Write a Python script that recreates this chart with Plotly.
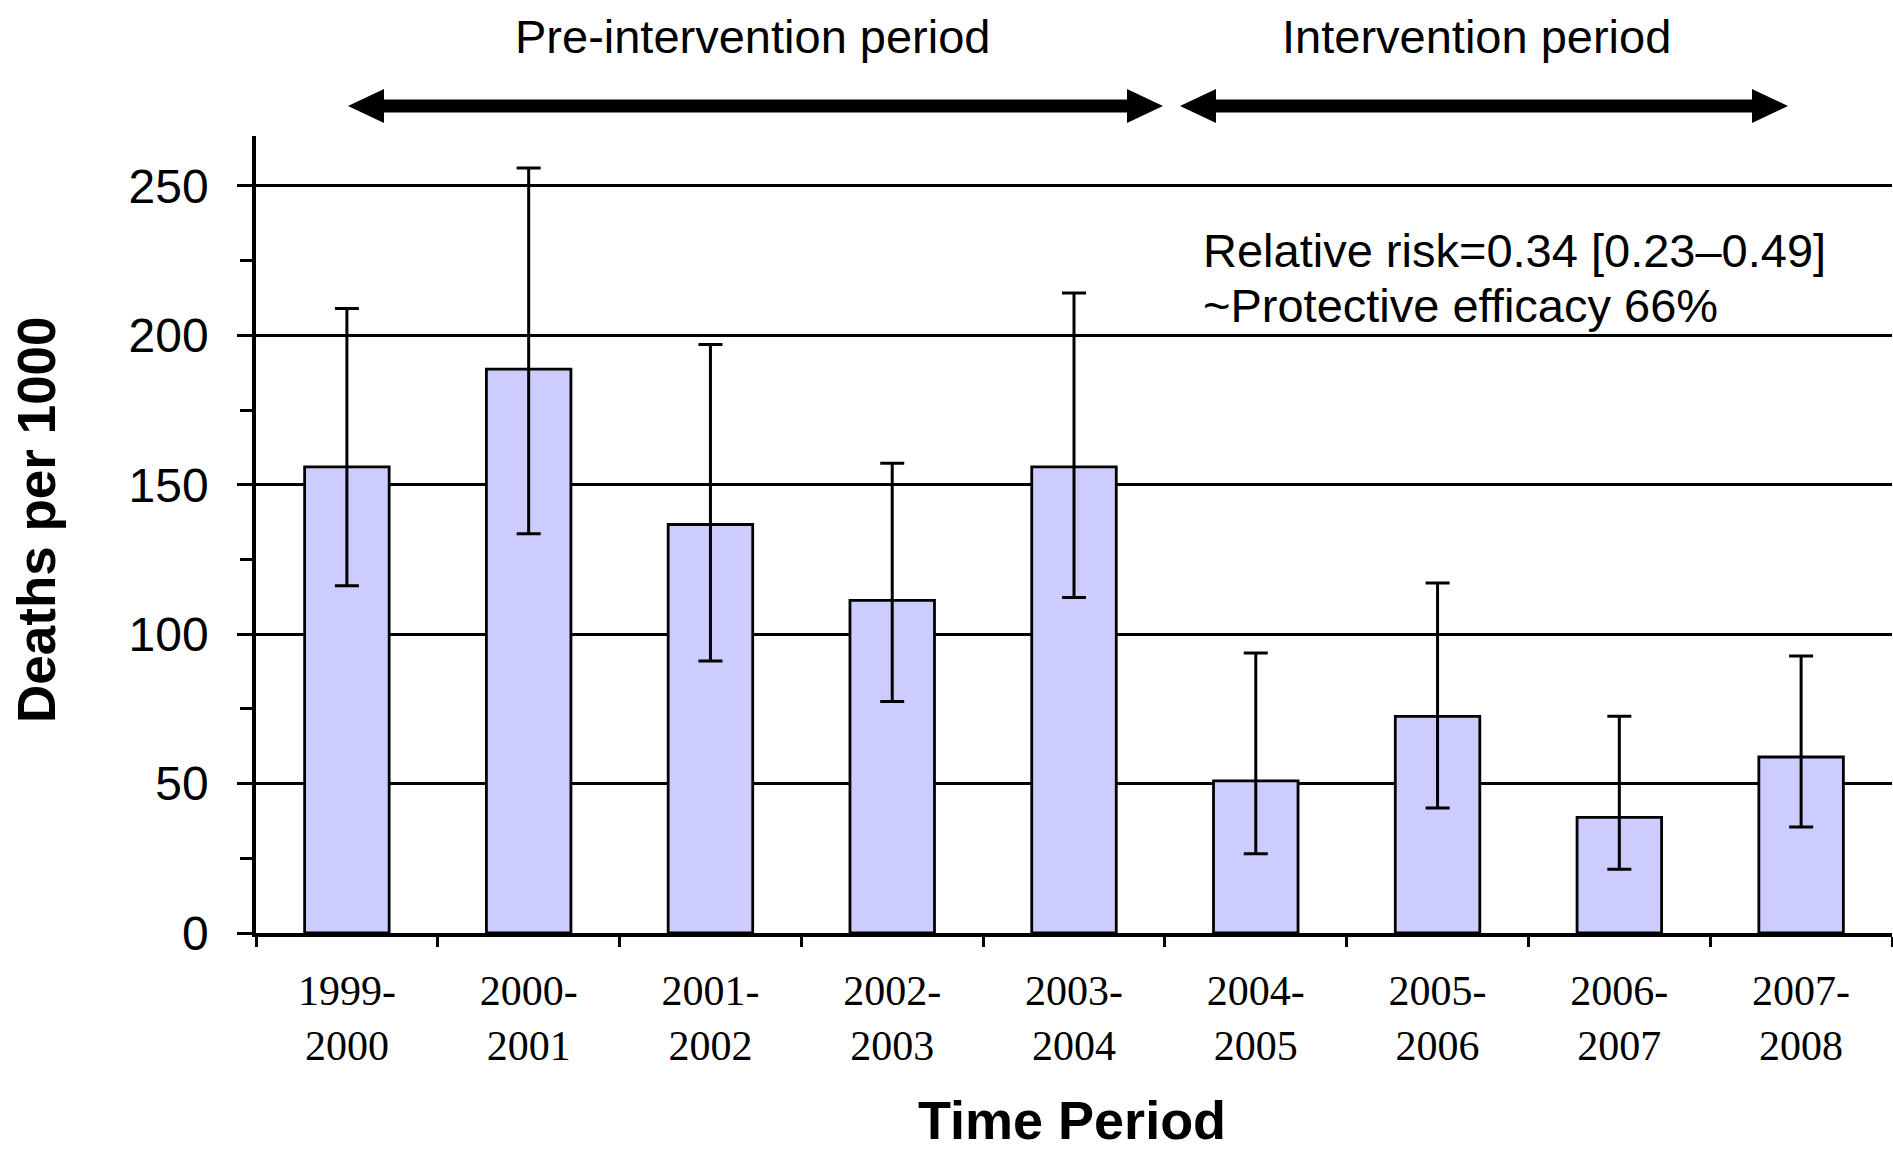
import plotly.graph_objects as go

# ---- data ----
periods = ["1999-<br>2000", "2000-<br>2001", "2001-<br>2002", "2002-<br>2003", "2003-<br>2004",
           "2004-<br>2005", "2005-<br>2006", "2006-<br>2007", "2007-<br>2008"]
deaths = [156.0, 188.7, 136.7, 111.3, 156.0, 50.9, 72.5, 38.7, 58.9]
upper = [209.0, 256.0, 196.9, 157.2, 214.2, 93.7, 117.1, 72.5, 92.7]
lower = [116.2, 133.6, 91.0, 77.5, 112.3, 26.5, 41.8, 21.3, 35.5]
y_ticks = [0, 50, 100, 150, 200, 250]

err_plus = [u - v for u, v in zip(upper, deaths)]
err_minus = [v - l for v, l in zip(deaths, lower)]

W, H = 1893, 1152
ML, MR, MT, MB = 256, 1, 136, 219
PW = W - ML - MR
PH = H - MT - MB

def px_x(x):
    return (x - ML) / PW

def px_y(y):
    return (H - MB - y) / PH

fig = go.Figure()
fig.add_trace(go.Bar(
    x=list(range(len(periods))), y=deaths, width=0.465,
    marker=dict(color="#CCCCFF", line=dict(color="black", width=2.8)),
    error_y=dict(type="data", symmetric=False, array=err_plus, arrayminus=err_minus,
                 color="black", thickness=3, width=12),
    showlegend=False, hoverinfo="y",
))

fig.update_layout(
    width=W, height=H,
    margin=dict(l=ML, r=MR, t=MT, b=MB, pad=0),
    paper_bgcolor="white", plot_bgcolor="white",
    bargap=0.5,
)

fig.update_xaxes(
    type="category",
    tickmode="array", tickvals=list(range(len(periods))), ticktext=periods,
    range=[-0.5, len(periods) - 0.5],
    tickson="boundaries", ticks="outside", ticklen=10, tickwidth=2.8, tickcolor="black",
    showline=True, linecolor="black", linewidth=3.5,
    showgrid=False, zeroline=False,
    tickfont=dict(family="Liberation Serif", size=42, color="black"),
    ticklabelstandoff=18,
)
fig.update_yaxes(
    range=[0, 266.7],
    tickmode="array", tickvals=y_ticks, ticktext=[str(v) for v in y_ticks],
    ticks="outside", ticklen=15, tickwidth=3, tickcolor="black",
    minor=dict(ticks="outside", ticklen=12, tickwidth=2.8, tickcolor="black",
               dtick=25, tick0=0, showgrid=False),
    showline=True, linecolor="black", linewidth=3.5,
    showgrid=True, gridcolor="black", gridwidth=3,
    zeroline=False,
    tickfont=dict(family="Liberation Sans", size=48, color="black"),
    ticklabelstandoff=19,
)

annos = [
    dict(text="Pre-intervention period", x=px_x(753), y=px_y(36), size=47, xanchor="center"),
    dict(text="Intervention period", x=px_x(1476), y=px_y(36), size=47, xanchor="center"),
    dict(text="Relative risk=0.34 [0.23\u20130.49]", x=px_x(1201), y=px_y(250), size=47, xanchor="left"),
    dict(text="~Protective efficacy 66%", x=px_x(1201), y=px_y(305), size=47, xanchor="left"),
    dict(text="<b>Time Period</b>", x=px_x(1072), y=px_y(1120), size=54, xanchor="center"),
]
for a in annos:
    fig.add_annotation(text=a["text"], xref="paper", yref="paper", x=a["x"], y=a["y"],
                       xanchor=a["xanchor"], yanchor="middle", showarrow=False,
                       font=dict(family="Liberation Sans", size=a["size"], color="black"))

fig.add_annotation(text="<b>Deaths per 1000</b>", xref="paper", yref="paper",
                   x=px_x(36), y=px_y(519), textangle=-90, showarrow=False,
                   xanchor="center", yanchor="middle",
                   font=dict(family="Liberation Sans", size=53, color="black"))

# double-headed arrows (pixel geometry converted to paper coords)
def arrow_path(x0p, x1p, yp, head_len=36, head_half=17, half_t=6.5):
    x0, x1 = px_x(x0p), px_x(x1p)
    L = head_len / PW
    y = px_y(yp)
    hh = head_half / PH
    t = half_t / PH
    pts = [(x0, y), (x0 + L, y + hh), (x0 + L, y + t), (x1 - L, y + t), (x1 - L, y + hh),
           (x1, y), (x1 - L, y - hh), (x1 - L, y - t), (x0 + L, y - t), (x0 + L, y - hh)]
    return "M " + " L ".join(f"{a:.5f},{b:.5f}" for a, b in pts) + " Z"

for x0p, x1p in [(348, 1163), (1180, 1788)]:
    fig.add_shape(type="path", xref="paper", yref="paper", path=arrow_path(x0p, x1p, 106),
                  fillcolor="black", line=dict(color="black", width=0), layer="above")

fig.write_html("out.html", config={"displayModeBar": False},
               post_script="document.body.style.margin='0';")
